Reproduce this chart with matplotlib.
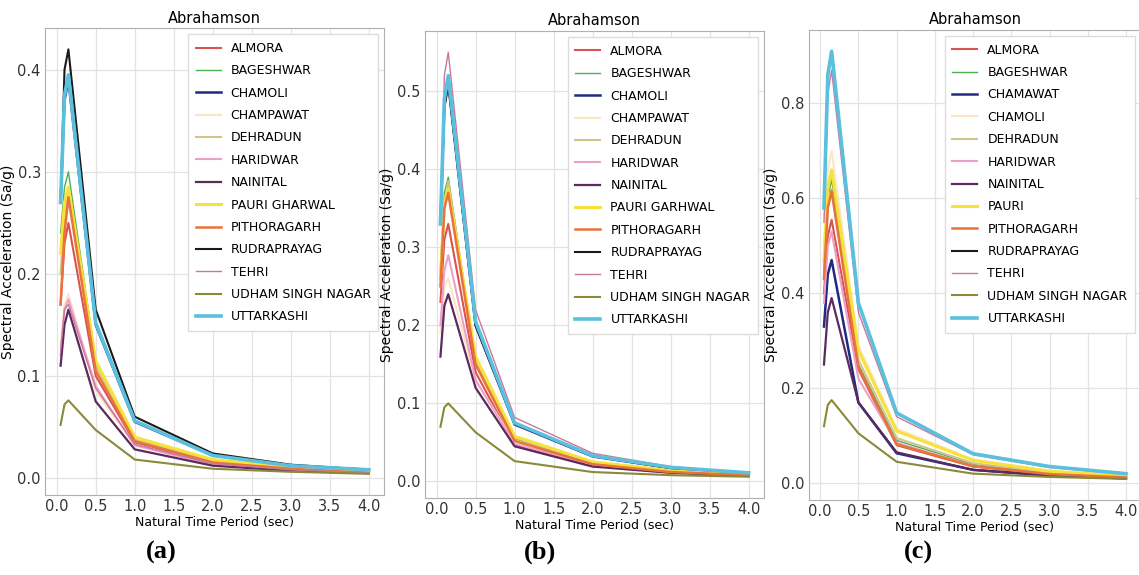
import matplotlib
matplotlib.use("Agg")
import matplotlib.pyplot as plt

# Periodos (s)
periodos = [0.05, 0.1, 0.15, 0.5, 1.0, 2.0, 3.0, 4.0]

# Panel (a)
nombres_a = ["ALMORA", "BAGESHWAR", "CHAMOLI", "CHAMPAWAT", "DEHRADUN", "HARIDWAR",
             "NAINITAL", "PAURI GHARWAL", "PITHORAGARH", "RUDRAPRAYAG", "TEHRI",
             "UDHAM SINGH NAGAR", "UTTARKASHI"]
almora_a = [0.17, 0.23, 0.25, 0.100, 0.035, 0.015, 0.009, 0.006]
bageshwar_a = [0.24, 0.285, 0.30, 0.115, 0.040, 0.017, 0.010, 0.006]
chamoli_a = [0.27, 0.37, 0.39, 0.150, 0.055, 0.022, 0.012, 0.008]
champawat_a = [0.13, 0.17, 0.18, 0.085, 0.032, 0.014, 0.008, 0.005]
dehradun_a = [0.20, 0.26, 0.28, 0.110, 0.038, 0.016, 0.009, 0.006]
haridwar_a = [0.12, 0.165, 0.175, 0.090, 0.032, 0.013, 0.008, 0.005]
nainital_a = [0.11, 0.15, 0.165, 0.075, 0.028, 0.012, 0.007, 0.005]
pauri_a = [0.22, 0.27, 0.285, 0.115, 0.040, 0.018, 0.010, 0.006]
pithoragarh_a = [0.17, 0.24, 0.275, 0.105, 0.036, 0.015, 0.009, 0.005]
rudraprayag_a = [0.27, 0.40, 0.42, 0.165, 0.060, 0.024, 0.013, 0.008]
tehri_a = [0.125, 0.165, 0.17, 0.088, 0.033, 0.014, 0.008, 0.005]
udham_a = [0.052, 0.072, 0.076, 0.047, 0.018, 0.009, 0.006, 0.004]
uttarkashi_a = [0.27, 0.375, 0.395, 0.152, 0.056, 0.022, 0.012, 0.008]

# Panel (b)
nombres_b = ["ALMORA", "BAGESHWAR", "CHAMOLI", "CHAMPAWAT", "DEHRADUN", "HARIDWAR",
             "NAINITAL", "PAURI GARHWAL", "PITHORAGARH", "RUDRAPRAYAG", "TEHRI",
             "UDHAM SINGH NAGAR", "UTTARKASHI"]
almora_b = [0.23, 0.31, 0.33, 0.140, 0.047, 0.021, 0.012, 0.008]
bageshwar_b = [0.27, 0.37, 0.39, 0.155, 0.055, 0.024, 0.013, 0.008]
chamoli_b = [0.33, 0.48, 0.51, 0.200, 0.073, 0.032, 0.017, 0.011]
champawat_b = [0.19, 0.25, 0.26, 0.130, 0.050, 0.022, 0.012, 0.008]
dehradun_b = [0.27, 0.36, 0.385, 0.155, 0.056, 0.024, 0.013, 0.008]
haridwar_b = [0.20, 0.27, 0.29, 0.130, 0.048, 0.021, 0.012, 0.007]
nainital_b = [0.16, 0.225, 0.24, 0.120, 0.045, 0.019, 0.011, 0.007]
pauri_b = [0.26, 0.355, 0.375, 0.160, 0.058, 0.025, 0.014, 0.009]
pithoragarh_b = [0.25, 0.35, 0.37, 0.150, 0.052, 0.022, 0.012, 0.008]
rudraprayag_b = [0.33, 0.48, 0.51, 0.200, 0.074, 0.033, 0.017, 0.011]
tehri_b = [0.33, 0.52, 0.55, 0.220, 0.082, 0.036, 0.019, 0.011]
udham_b = [0.07, 0.095, 0.10, 0.063, 0.026, 0.012, 0.008, 0.006]
uttarkashi_b = [0.33, 0.49, 0.52, 0.205, 0.075, 0.033, 0.018, 0.011]

# Panel (c)
nombres_c = ["ALMORA", "BAGESHWAR", "CHAMAWAT", "CHAMOLI", "DEHRADUN", "HARIDWAR",
             "NAINITAL", "PAURI", "PITHORAGARH", "RUDRAPRAYAG", "TEHRI",
             "UDHAM SINGH NAGAR", "UTTARKASHI"]
almora_c = [0.40, 0.52, 0.555, 0.240, 0.080, 0.035, 0.018, 0.011]
bageshwar_c = [0.45, 0.60, 0.64, 0.250, 0.090, 0.040, 0.020, 0.013]
chamawat_c = [0.33, 0.44, 0.47, 0.170, 0.063, 0.028, 0.016, 0.010]
chamoli_c = [0.50, 0.66, 0.70, 0.290, 0.115, 0.050, 0.026, 0.016]
dehradun_c = [0.44, 0.58, 0.62, 0.260, 0.095, 0.042, 0.022, 0.013]
haridwar_c = [0.38, 0.50, 0.53, 0.220, 0.085, 0.036, 0.019, 0.012]
nainital_c = [0.25, 0.36, 0.39, 0.170, 0.065, 0.028, 0.016, 0.010]
pauri_c = [0.47, 0.62, 0.66, 0.280, 0.110, 0.048, 0.025, 0.015]
pithoragarh_c = [0.43, 0.58, 0.615, 0.245, 0.082, 0.036, 0.019, 0.012]
rudraprayag_c = [0.58, 0.86, 0.91, 0.380, 0.148, 0.062, 0.035, 0.020]
tehri_c = [0.55, 0.82, 0.87, 0.360, 0.140, 0.060, 0.033, 0.019]
udham_c = [0.12, 0.165, 0.175, 0.105, 0.045, 0.020, 0.013, 0.009]
uttarkashi_c = [0.58, 0.86, 0.91, 0.380, 0.148, 0.062, 0.035, 0.020]

series_a = [almora_a, bageshwar_a, chamoli_a, champawat_a, dehradun_a, haridwar_a, nainital_a,
            pauri_a, pithoragarh_a, rudraprayag_a, tehri_a, udham_a, uttarkashi_a]
series_b = [almora_b, bageshwar_b, chamoli_b, champawat_b, dehradun_b, haridwar_b, nainital_b,
            pauri_b, pithoragarh_b, rudraprayag_b, tehri_b, udham_b, uttarkashi_b]
series_c = [almora_c, bageshwar_c, chamawat_c, chamoli_c, dehradun_c, haridwar_c, nainital_c,
            pauri_c, pithoragarh_c, rudraprayag_c, tehri_c, udham_c, uttarkashi_c]

# estilo de cada linea (mismo orden de la leyenda)
colores = ["#d9534f", "#4caf50", "#1f2a80", "#fbe6c4", "#cfc48c", "#ee9fc8", "#5b2a5e",
           "#f7e23a", "#e8743b", "#1a1a1a", "#c9789a", "#8a8a3a", "#5bc0de"]
anchos = [1.5, 1.0, 1.8, 1.5, 1.5, 1.5, 1.6, 2.2, 1.8, 1.5, 1.0, 1.5, 2.6]

fig = plt.figure(figsize=(11.39, 5.75), dpi=100)
posiciones = [[0.0395, 0.139, 0.298, 0.812],
              [0.373, 0.134, 0.298, 0.812],
              [0.710, 0.130, 0.292, 0.818]]
paneles = [(nombres_a, series_a, "(a)", 0.142),
           (nombres_b, series_b, "(b)", 0.474),
           (nombres_c, series_c, "(c)", 0.806)]

for pos, (nombres, series, letra, xl) in zip(posiciones, paneles):
    ax = fig.add_axes(pos)
    for nombre, valores, c, lw in zip(nombres, series, colores, anchos):
        ax.plot(periodos, valores, color=c, linewidth=lw, label=nombre)
    ax.set_xlim(-0.15, 4.2)
    ax.set_xticks([0.0, 0.5, 1.0, 1.5, 2.0, 2.5, 3.0, 3.5, 4.0])
    ax.grid(True, color="#e3e3e3", linewidth=0.9)
    ax.set_axisbelow(True)
    for s in ax.spines.values():
        s.set_color("#b0b0b0")
    ax.tick_params(labelsize=10.5, length=0, pad=3, colors="#333333")
    ax.set_title("Abrahamson", fontsize=10.5, pad=4)
    ax.set_xlabel("Natural Time Period (sec)", fontsize=9, labelpad=1)
    ax.set_ylabel("Spectral Acceleration (Sa/g)", fontsize=10, labelpad=2)
    leg = ax.legend(loc="upper right", labelspacing=0.75, handlelength=2.0,
                    framealpha=1, fancybox=False, borderpad=0.6,
                    prop={"family": ["Liberation Sans Narrow", "DejaVu Sans"], "size": 9})
    leg.get_frame().set_edgecolor("#dddddd")
    fig.text(xl, 0.02, letra, fontsize=19, fontweight="bold", family="Liberation Serif",
             ha="center", va="bottom")

plt.savefig("out.png", dpi=100)
